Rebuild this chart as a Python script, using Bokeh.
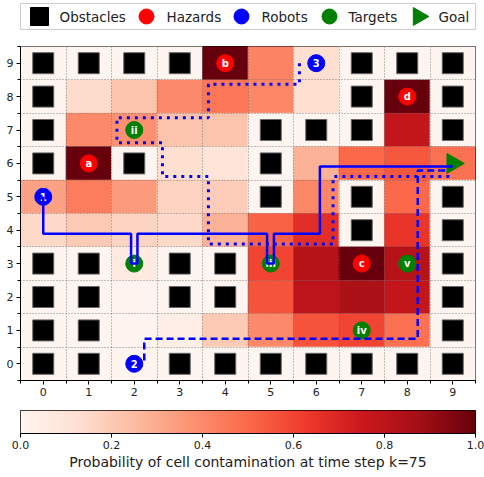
import numpy as np
from bokeh.plotting import figure
from bokeh.layouts import column
from bokeh.models import ColumnDataSource, FixedTicker, PrintfTickFormatter, LinearColorMapper
from bokeh.palettes import Reds256
from bokeh.transform import linear_cmap
from bokeh.core.properties import value
from bokeh.embed import file_html
from bokeh.resources import INLINE

FONT = "DejaVu Sans"
PALETTE = list(Reds256[::-1])  # white -> dark red

# ---- data -------------------------------------------------------------
# contamination probability per cell; rows listed from y=9 (top) to y=0
row_y = [9, 8, 7, 6, 5, 4, 3, 2, 1, 0]
contamination = [
    [0.00, 0.00, 0.00, 0.00, 1.00, 0.42, 0.13, 0.00, 0.00, 0.00],
    [0.00, 0.14, 0.22, 0.40, 0.46, 0.41, 0.13, 0.00, 1.00, 0.00],
    [0.00, 0.40, 0.38, 0.22, 0.22, 0.00, 0.00, 0.00, 0.78, 0.00],
    [0.00, 1.00, 0.00, 0.13, 0.10, 0.00, 0.28, 0.50, 0.55, 0.48],
    [0.33, 0.44, 0.35, 0.17, 0.19, 0.00, 0.41, 0.00, 0.50, 0.00],
    [0.15, 0.20, 0.17, 0.15, 0.28, 0.52, 0.67, 0.00, 0.65, 0.00],
    [0.00, 0.00, 0.06, 0.00, 0.00, 0.60, 0.82, 1.00, 0.82, 0.00],
    [0.00, 0.00, 0.01, 0.00, 0.00, 0.56, 0.80, 0.85, 0.78, 0.00],
    [0.00, 0.00, 0.01, 0.04, 0.20, 0.40, 0.56, 0.60, 0.48, 0.00],
    [0.00, 0.00, 0.01, 0.00, 0.00, 0.00, 0.00, 0.00, 0.00, 0.00],
]

obstacle_x = [0, 1, 2, 3, 7, 8, 9,
              0, 7, 9,
              0, 5, 6, 7, 9,
              0, 2, 5,
              5, 7, 9,
              7, 9,
              0, 1, 3, 4, 9,
              0, 1, 3, 4, 9,
              0, 1, 9,
              0, 1, 3, 4, 5, 6, 7, 8, 9]
obstacle_y = [9, 9, 9, 9, 9, 9, 9,
              8, 8, 8,
              7, 7, 7, 7, 7,
              6, 6, 6,
              5, 5, 5,
              4, 4,
              3, 3, 3, 3, 3,
              2, 2, 2, 2, 2,
              1, 1, 1,
              0, 0, 0, 0, 0, 0, 0, 0, 0]

hazard_x = [1, 4, 7, 8]
hazard_y = [6, 9, 3, 8]
hazard_labels = ["a", "b", "c", "d"]

robot_x = [0, 2, 6]
robot_y = [5, 0, 9]
robot_labels = ["1", "2", "3"]

target_x = [2, 2, 5, 7, 8]
target_y = [3, 7, 3, 1, 3]
target_labels = ["i", "ii", "iii", "iv", "v"]

goal_x = [9]
goal_y = [6]

# planned routes of the three robots
route1_x = [0.0, 0.0, 1.93, 1.93, 2.07, 2.07, 4.92, 4.92, 5.07, 5.07, 6.08, 6.08, 9.0]
route1_y = [5.0, 3.89, 3.89, 3.0, 3.0, 3.89, 3.89, 3.0, 3.0, 3.89, 3.89, 5.91, 5.91]
route2_x = [2.22, 2.22, 8.23, 8.23, 8.9]
route2_y = [0.1, 0.75, 0.75, 5.79, 5.79]
route3_x = [5.63, 5.63, 3.63, 3.63, 1.62, 1.62, 2.62, 2.62, 3.63, 3.63, 6.37, 6.37, 9.0]
route3_y = [9.0, 8.37, 8.37, 7.37, 7.37, 6.62, 6.62, 5.61, 5.61, 3.59, 3.59, 5.61, 5.61]

axis_ticks = [0, 1, 2, 3, 4, 5, 6, 7, 8, 9]
cell_edges = [-0.5, 0.5, 1.5, 2.5, 3.5, 4.5, 5.5, 6.5, 7.5, 8.5, 9.5]
cbar_ticks = [0.0, 0.2, 0.4, 0.6, 0.8, 1.0]

legend_labels = ["Obstacles", "Hazards", "Robots", "Targets", "Goal"]
legend_markers = ["square", "circle", "circle", "circle", "triangle"]
legend_colors = ["black", "red", "blue", "green", "green"]

# ---- legend strip -----------------------------------------------------
leg = figure(width=484, height=34, x_range=(0, 455), y_range=(0, 26),
             toolbar_location=None, output_backend="svg",
             min_border_left=20, min_border_right=9,
             min_border_top=3, min_border_bottom=5)
leg.axis.visible = False
leg.grid.visible = False
leg.outline_line_color = "#cccccc"
leg.outline_line_width = 1
leg_src = ColumnDataSource(dict(
    mx=[19, 126, 221, 309, 398],
    tx=[39, 146, 241, 328, 418],
    y=[13, 13, 13, 13, 13],
    marker=legend_markers,
    color=legend_colors,
    size=[18, 15, 15, 15, 18],
    angle=[0, 0, 0, 0, -np.pi / 2],
    label=legend_labels,
))
leg.scatter(x="mx", y="y", marker="marker", size="size", angle="angle",
            fill_color="color", line_color="color", source=leg_src)
leg.text(x="tx", y="y", text="label", source=leg_src, text_baseline="middle",
         text_align="left", text_font=value(FONT), text_font_size="13.5px",
         text_color="#222222")

# ---- grid map ---------------------------------------------------------
p = figure(width=484, height=366, x_range=(-0.5, 9.5), y_range=(-0.5, 9.5),
           toolbar_location=None, output_backend="svg",
           min_border_left=19, min_border_right=9,
           min_border_top=12, min_border_bottom=20)

cells_x, cells_y, cells_v = [], [], []
for yy, row in zip(row_y, contamination):
    for xx, v in enumerate(row):
        cells_x.append(xx)
        cells_y.append(yy)
        cells_v.append(v)
cmap = linear_cmap("v", PALETTE, 0, 1)
p.rect(x="x", y="y", width=1, height=1,
       source=ColumnDataSource(dict(x=cells_x, y=cells_y, v=cells_v)),
       fill_color=cmap, line_color=cmap, line_width=0.6, level="image")

p.scatter(obstacle_x, obstacle_y, marker="square", size=21,
          fill_color="black", line_color="#666666", line_width=1)
p.scatter(hazard_x, hazard_y, marker="circle", size=17,
          fill_color="red", line_color="red")
p.scatter(target_x, target_y, marker="circle", size=17,
          fill_color="green", line_color="green")
p.scatter(robot_x, robot_y, marker="circle", size=17,
          fill_color="blue", line_color="blue")
p.scatter(goal_x, goal_y, marker="triangle", size=20, angle=-np.pi / 2,
          fill_color="green", line_color="green")

for xs, ys, labels in [(hazard_x, hazard_y, hazard_labels),
                       (target_x, target_y, target_labels),
                       (robot_x, robot_y, robot_labels)]:
    p.text(xs, ys, text=labels, text_align="center", text_baseline="middle",
           text_color="white", text_font=value(FONT), text_font_style="bold",
           text_font_size="10px")

p.line(route1_x, route1_y, line_color="blue", line_width=2.5)
p.line(route2_x, route2_y, line_color="blue", line_width=2.5, line_dash="7 4")
p.line(route3_x, route3_y, line_color="blue", line_width=3, line_dash="3 5")

for ax in (p.xaxis, p.yaxis):
    ax.ticker = FixedTicker(ticks=axis_ticks, minor_ticks=cell_edges)
    ax.major_tick_out = 4
    ax.major_tick_in = 0
    ax.minor_tick_out = 3
    ax.minor_tick_in = 0
    ax.major_label_standoff = 3
    ax.major_label_text_font = FONT
    ax.major_label_text_font_size = "11px"
    ax.major_label_text_color = "#222222"
    ax.axis_line_color = "black"
    ax.major_tick_line_color = "black"
    ax.minor_tick_line_color = "black"
for g in (p.xgrid, p.ygrid):
    g.ticker = FixedTicker(ticks=cell_edges)
    g.grid_line_color = "#666666"
    g.grid_line_dash = "1 2"
    g.grid_line_width = 0.8
p.outline_line_color = "black"
p.outline_line_alpha = 1

# ---- colour bar -------------------------------------------------------
cb = figure(width=484, height=77, x_range=(0, 1), y_range=(0, 1),
            toolbar_location=None, output_backend="svg",
            min_border_left=19, min_border_right=9,
            min_border_top=10, min_border_bottom=44)
mapper = LinearColorMapper(palette=PALETTE, low=0, high=1)
cb.image(image=[np.linspace(0, 1, 256).reshape(1, 256)], x=0, y=0, dw=1, dh=1,
         color_mapper=mapper)
cb.yaxis.visible = False
cb.grid.visible = False
cb.outline_line_color = "black"
cb.outline_line_alpha = 1
cb.xaxis.ticker = FixedTicker(ticks=cbar_ticks)
cb.xaxis.formatter = PrintfTickFormatter(format="%.1f")
cb.xaxis.major_tick_out = 4
cb.xaxis.major_tick_in = 0
cb.xaxis.minor_tick_out = 0
cb.xaxis.major_label_standoff = 3
cb.xaxis.major_label_text_font = FONT
cb.xaxis.major_label_text_font_size = "11px"
cb.xaxis.major_label_text_color = "#222222"
cb.xaxis.axis_label = "Probability of cell contamination at time step k=75"
cb.xaxis.axis_label_text_font = FONT
cb.xaxis.axis_label_text_font_size = "14px"
cb.xaxis.axis_label_text_font_style = "normal"
cb.xaxis.axis_label_text_color = "#222222"
cb.xaxis.axis_label_standoff = 2
cb.xaxis.axis_line_color = "black"

layout = column(leg, p, cb, spacing=0)
open("out.html", "w").write(file_html(layout, INLINE))
